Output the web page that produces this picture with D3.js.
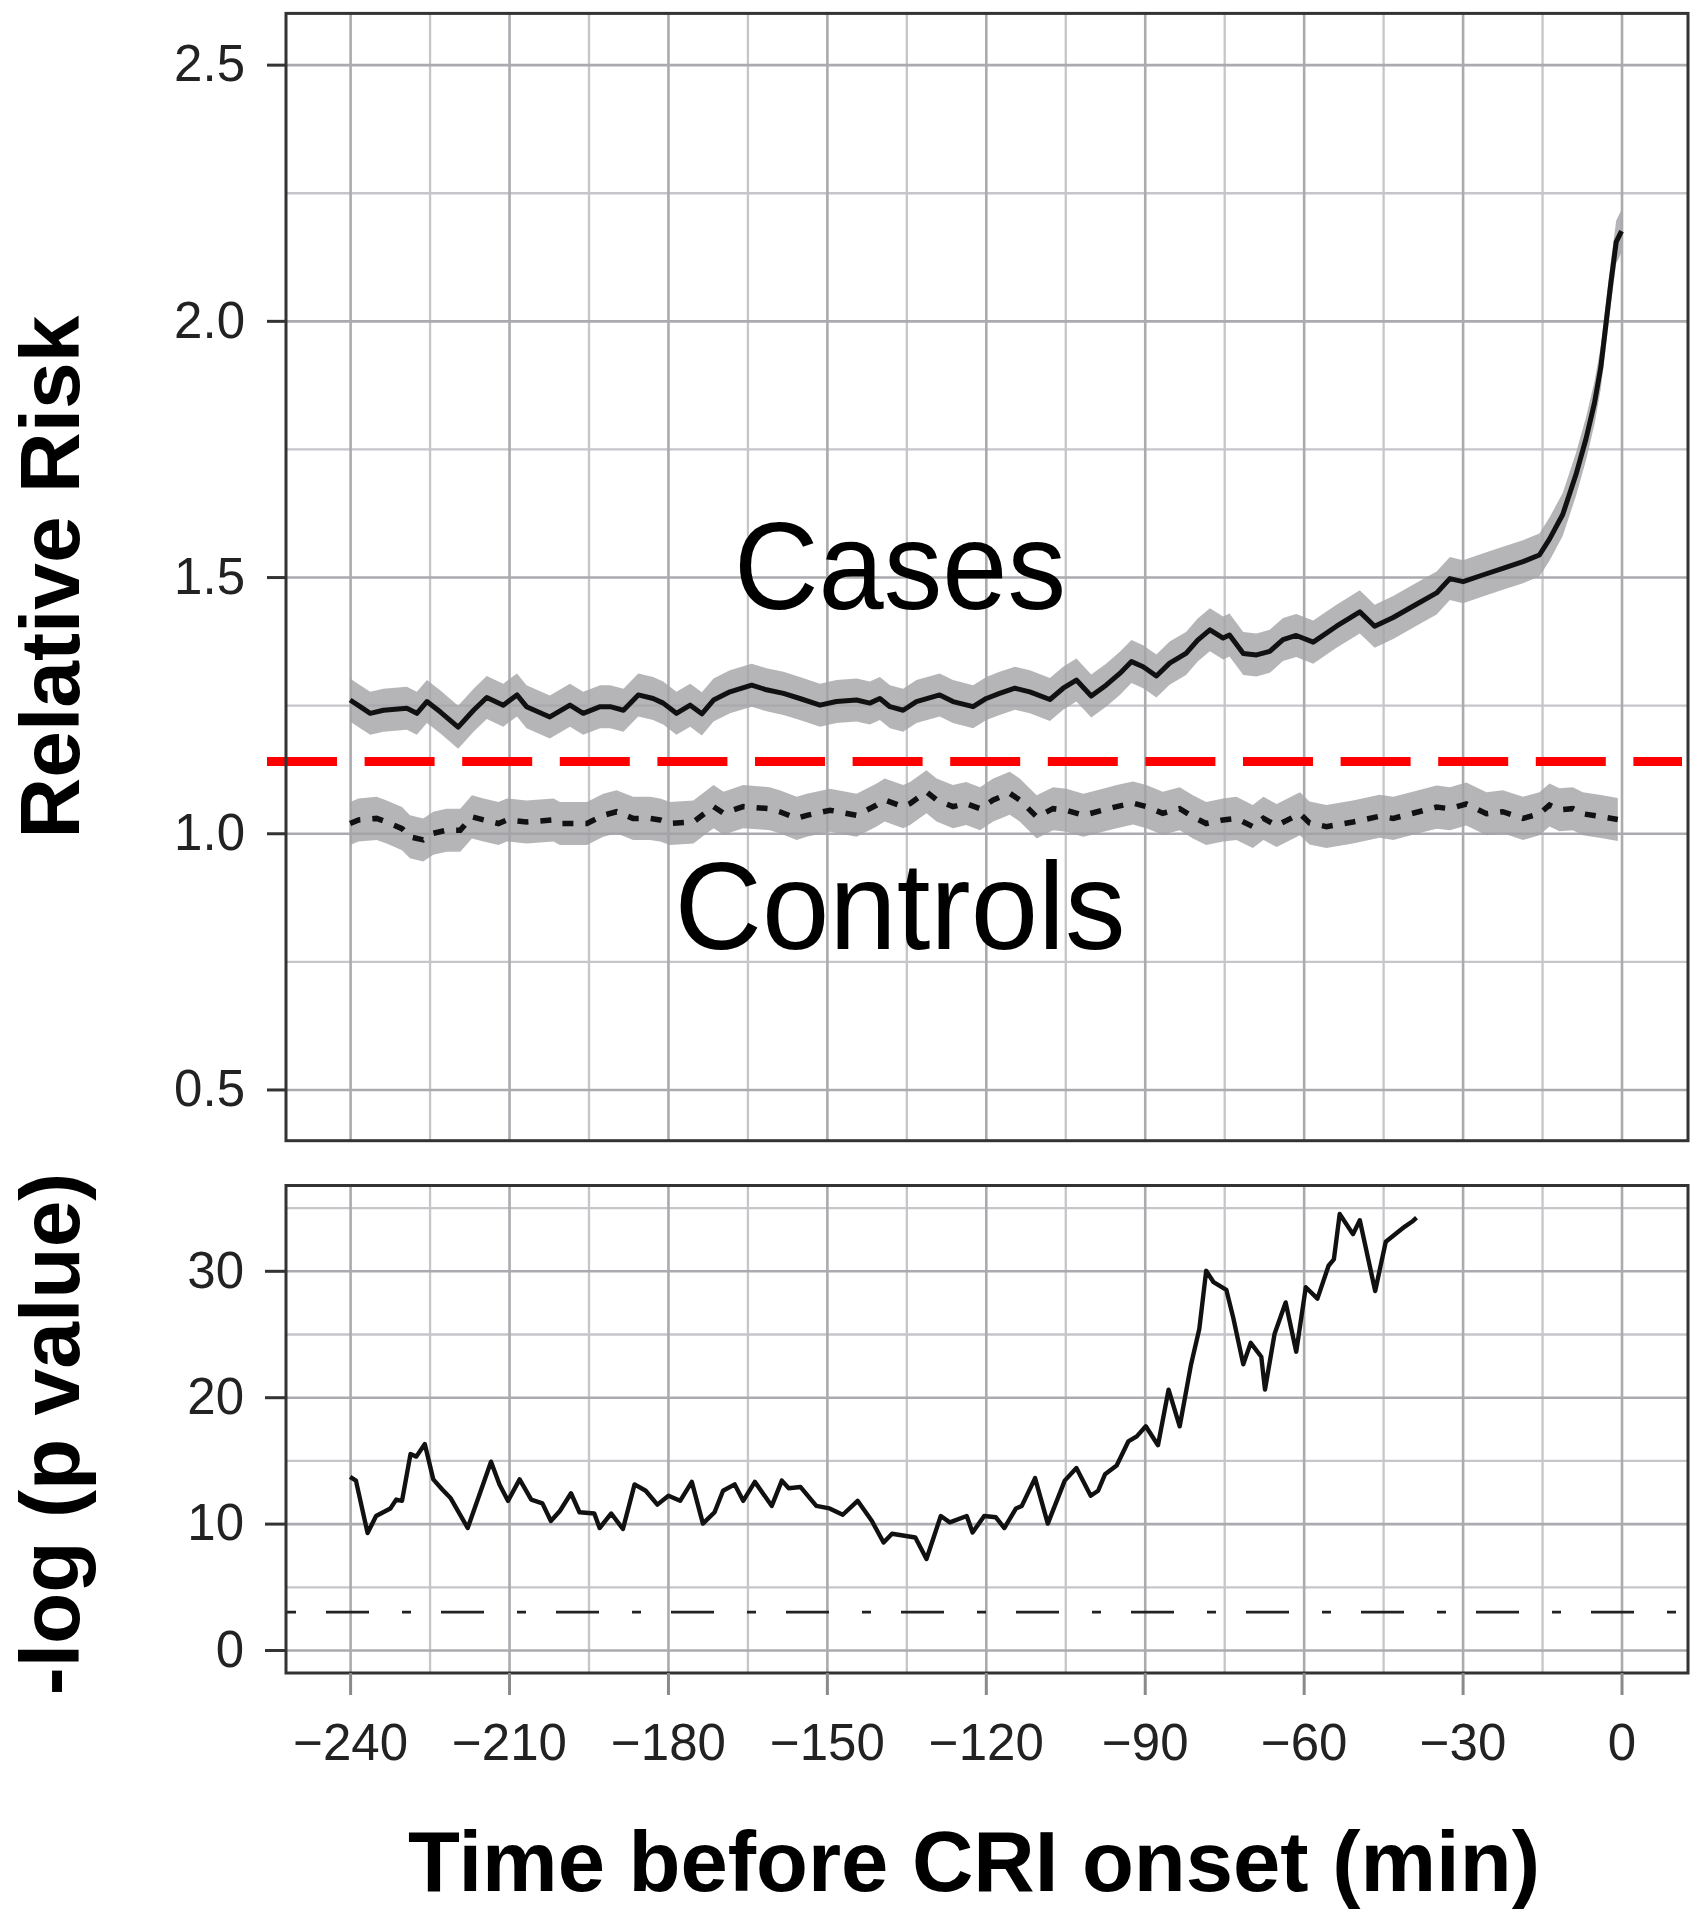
<!DOCTYPE html>
<html>
<head>
<meta charset="utf-8">
<script src="https://cdn.jsdelivr.net/npm/d3@7"></script>
<style>
    body { margin: 0; background: #fff; }
    svg { display: block; font-family: "Liberation Sans", Arial, Helvetica, sans-serif; }
</style>
</head>
<body>
<div id="chart"></div>
<script>
// Values (minutes before CRI onset)
const casesTime = [-240, -238.1, -236.2, -233.7, -229.3, -227.4, -225.5, -223, -219.6, -216.7, -214.2, -211.1, -208.5, -206.7,
    -202.3, -198.5, -196, -192.8, -190.9, -188.4, -185.6, -182.8, -180.9, -178.4, -175.8, -173.6, -171.4, -168.3, -164.2,
    -161.4, -158.2, -155.1, -151.3, -148.2, -144.4, -141.9, -140, -138.1, -135.6, -133.1, -128.7, -126.2, -122.4, -119.9,
    -117.4, -114.5, -111.7, -107.9, -105.4, -102.9, -100.1, -97.3, -94.7, -92.5, -90.3, -87.8, -85.3, -82.2, -80, -77.7,
    -75.2, -74, -71.4, -68.9, -66.4, -63.9, -61.4, -58.2, -53.8, -49.4, -46.6, -43.1, -38.7, -34.9, -32.4, -29.9, -26.2,
    -22.4, -18.6, -15.5, -13.6, -11.1, -8.6, -6.7, -5.1, -3.9, -2.9, -2, -1, 0];
const casesRR = [1.26, 1.247, 1.234, 1.24, 1.244, 1.234, 1.257, 1.237, 1.207, 1.24, 1.265, 1.25, 1.27, 1.247,
    1.227, 1.25, 1.234, 1.247, 1.247, 1.24, 1.27, 1.263, 1.254, 1.234, 1.25, 1.233, 1.26, 1.276, 1.289,
    1.28, 1.273, 1.263, 1.25, 1.257, 1.26, 1.254, 1.263, 1.247, 1.24, 1.257, 1.27, 1.257, 1.247, 1.263,
    1.273, 1.283, 1.276, 1.261, 1.283, 1.299, 1.268, 1.289, 1.312, 1.335, 1.325, 1.307, 1.332, 1.351, 1.377, 1.397,
    1.381, 1.387, 1.351, 1.348, 1.355, 1.378, 1.386, 1.373, 1.404, 1.432, 1.404, 1.421, 1.447, 1.469, 1.497, 1.491, 1.504,
    1.517, 1.53, 1.543, 1.574, 1.622, 1.70, 1.77, 1.84, 1.91, 1.997, 2.075, 2.154, 2.175];

const controlsTime = [-240, -238.4, -235, -233.1, -230.2, -228.7, -226.2, -224.3, -221.8, -219.2, -217, -214.8, -212, -210.4,
    -206.7, -201.6, -200.4, -195.3, -192.2, -189.7, -186.6, -183.4, -181.5, -179.6, -175.2, -171.4, -169.5, -165.8, -160.8,
    -158.9, -155.7, -153.8, -149.4, -144.4, -140.6, -139.1, -135.6, -134.3, -131.2, -129.3, -126.2, -123.7, -121.1, -118.6,
    -115.5, -113.6, -110.4, -107.3, -104.8, -101.6, -97.9, -95.3, -92.2, -89.7, -86.6, -83.4, -80.9, -78.4, -75.2, -72.7,
    -69.6, -67.6, -65.1, -60.7, -58.9, -55.7, -50.7, -45.7, -43.1, -39.4, -34.9, -32.4, -29.3, -25.5, -22.4, -18.6, -15.5,
    -13.6, -11.7, -9.2, -7.3, -4.2, -0.7];
const controlsRR = [1.019, 1.026, 1.029, 1.022, 1.009, 0.993, 0.987, 1.0, 1.006, 1.006, 1.032, 1.026, 1.019, 1.026,
    1.022, 1.026, 1.019, 1.019, 1.035, 1.042, 1.029, 1.029, 1.026, 1.019, 1.022, 1.052, 1.039, 1.052, 1.048,
    1.042, 1.029, 1.035, 1.045, 1.035, 1.055, 1.065, 1.052, 1.058, 1.081, 1.065, 1.052, 1.058, 1.048, 1.065,
    1.078, 1.065, 1.032, 1.048, 1.045, 1.035, 1.045, 1.052, 1.059, 1.052, 1.039, 1.048, 1.032, 1.019, 1.026, 1.029,
    1.013, 1.029, 1.015, 1.038, 1.02, 1.013, 1.022, 1.033, 1.029, 1.039, 1.051, 1.048, 1.057, 1.038, 1.042, 1.029, 1.038,
    1.055, 1.046, 1.048, 1.038, 1.033, 1.027];

const pTime = [-240, -238.9, -236.7, -235.1, -232.4, -231.3, -230.2, -228.6, -227.5, -225.9, -224.3, -222.6, -221, -217.8,
    -213.4, -211.8, -210.2, -208, -205.8, -203.7, -202.1, -200.4, -198.3, -196.7, -193.9, -192.9, -190.7, -188.5, -186.3,
    -184.2, -182, -179.9, -177.7, -175.5, -173.4, -171.2, -169.6, -167.4, -165.8, -163.6, -160.4, -158.5, -157.2, -155,
    -152, -149.5, -147, -144.2, -141.5, -139.3, -137.7, -133.3, -131.2, -128.5, -126.8, -123.6, -122.5, -120.3, -118.1,
    -116.5, -114.3, -113.2, -110.7, -108.3, -105.1, -102.9, -100.2, -98.8, -97.5, -95.3, -93.1, -91.5, -89.8, -87.5,
    -85.5, -83.4, -81.3, -79.7, -78.4, -77, -74.6, -73.3, -71.4, -70, -68, -67.3, -65.5, -63.4, -61.4, -59.6, -57.4,
    -55.3, -54.3, -53.2, -50.7, -49.4, -46.5, -44.5, -40.9, -39.5, -38.7];
const pValue = [13.7, 13.4, 9.25, 10.6, 11.2, 11.9, 11.8, 15.5, 15.3, 16.3, 13.5, 12.7, 12.0, 9.65,
    14.9, 13.1, 11.8, 13.5, 11.9, 11.6, 10.2, 11.0, 12.4, 10.9, 10.8, 9.65, 10.8, 9.57, 13.1,
    12.6, 11.5, 12.2, 11.8, 13.3, 10.0, 10.9, 12.6, 13.1, 11.8, 13.3, 11.4, 13.4, 12.8, 12.9,
    11.4, 11.2, 10.7, 11.8, 10.2, 8.5, 9.2, 8.9, 7.2, 10.6, 10.1, 10.6, 9.3, 10.6, 10.5,
    9.65, 11.2, 11.4, 13.6, 10.0, 13.4, 14.4, 12.2, 12.6, 13.9, 14.6, 16.5, 16.9, 17.7, 16.2,
    20.6, 17.7, 22.5, 25.4, 30.0, 29.1, 28.5, 26.3, 22.6, 24.3, 23.2, 20.6, 25.0, 27.5, 23.6, 28.7, 27.8,
    30.4, 30.9, 34.5, 32.9, 34.0, 28.4, 32.3, 33.5, 33.9, 34.2];

const xTicks = [-240, -210, -180, -150, -120, -90, -60, -30, 0];
const xMinor = [-225, -195, -165, -135, -105, -75, -45, -15];
const rrTicks = [0.5, 1.0, 1.5, 2.0, 2.5];
const rrMinor = [0.75, 1.25, 1.75, 2.25];
const pTicks = [0, 10, 20, 30];
const pMinor = [5, 15, 25, 35];

const rrThreshold = 1.14;
const pThreshold = 3;
const bandHalf = 0.042;

// Dimensions
const width = 1704;
const height = 1920;
const panelLeft = 286;
const panelRight = 1688;
const top1 = 13.4, bottom1 = 1140.7;
const top2 = 1185.5, bottom2 = 1673;

const x = d3.scaleLinear().domain([-252.1, 12.55]).range([panelLeft, panelRight]);
const yRR = d3.scaleLinear().domain([0.4, 2.6]).range([bottom1, top1]);
const yP = d3.scaleLinear().domain([-1.82, 36.75]).range([bottom2, top2]);

const cases = casesTime.map((t, i) => ({t: t, v: casesRR[i]}));
const controls = controlsTime.map((t, i) => ({t: t, v: controlsRR[i]}));
const pData = pTime.map((t, i) => ({t: t, v: pValue[i]}));

const svg = d3.select("#chart")
    .append("svg")
    .attr("width", width)
    .attr("height", height);

const minusFmt = d => d < 0 ? "\u2212" + Math.abs(d) : String(d);

function grid(yScale, yTop, yBottom, yMajor, yMinorVals) {
    const g = svg.append("g");
    // minor lines first, lighter
    g.append("g")
        .attr("transform", `translate(0,${yBottom})`)
        .call(d3.axisBottom(x).tickValues(xMinor).tickSize(-(yBottom - yTop)).tickFormat(""))
        .call(s => s.select(".domain").remove())
        .call(s => s.selectAll("line").attr("stroke", "#c6c6ca").attr("stroke-width", 2.3));
    g.append("g")
        .attr("transform", `translate(${panelLeft},0)`)
        .call(d3.axisLeft(yScale).tickValues(yMinorVals).tickSize(-(panelRight - panelLeft)).tickFormat(""))
        .call(s => s.select(".domain").remove())
        .call(s => s.selectAll("line").attr("stroke", "#c6c6ca").attr("stroke-width", 2.3));
    g.append("g")
        .attr("transform", `translate(0,${yBottom})`)
        .call(d3.axisBottom(x).tickValues(xTicks).tickSize(-(yBottom - yTop)).tickFormat(""))
        .call(s => s.select(".domain").remove())
        .call(s => s.selectAll("line").attr("stroke", "#ababaf").attr("stroke-width", 2.6));
    g.append("g")
        .attr("transform", `translate(${panelLeft},0)`)
        .call(d3.axisLeft(yScale).tickValues(yMajor).tickSize(-(panelRight - panelLeft)).tickFormat(""))
        .call(s => s.select(".domain").remove())
        .call(s => s.selectAll("line").attr("stroke", "#ababaf").attr("stroke-width", 2.6));
}

// 1. Grids
grid(yRR, top1, bottom1, rrTicks, rrMinor);
grid(yP, top2, bottom2, pTicks, pMinor);

// 2. Confidence bands
const band = d3.area()
    .x(d => x(d.t))
    .y0(d => yRR(d.v - bandHalf))
    .y1(d => yRR(d.v + bandHalf));

[cases, controls].forEach(s => {
    svg.append("path")
        .datum(s)
        .attr("d", band)
        .attr("fill", "#a2a2a6")
        .attr("fill-opacity", 0.8);
});

// 3. Lines
const rrLine = d3.line().x(d => x(d.t)).y(d => yRR(d.v));
svg.append("path")
    .datum(cases)
    .attr("d", rrLine)
    .attr("fill", "none")
    .attr("stroke", "#111")
    .attr("stroke-width", 5)
    .attr("stroke-linejoin", "round");

svg.append("path")
    .datum(controls)
    .attr("d", rrLine)
    .attr("fill", "none")
    .attr("stroke", "#111")
    .attr("stroke-width", 5.5)
    .attr("stroke-dasharray", "11,12");

// red reference line (spills a bit past the left border, like the original)
svg.append("line")
    .attr("x1", panelLeft - 19)
    .attr("x2", panelRight - 6)
    .attr("y1", yRR(rrThreshold))
    .attr("y2", yRR(rrThreshold))
    .attr("stroke", "#ff0000")
    .attr("stroke-width", 9)
    .attr("stroke-dasharray", "70,27.6");

const pLine = d3.line().x(d => x(d.t)).y(d => yP(d.v));
svg.append("path")
    .datum(pData)
    .attr("d", pLine)
    .attr("fill", "none")
    .attr("stroke", "#111")
    .attr("stroke-width", 4.4)
    .attr("stroke-linejoin", "round");

svg.append("line")
    .attr("x1", panelLeft)
    .attr("x2", panelRight - 4)
    .attr("y1", yP(pThreshold))
    .attr("y2", yP(pThreshold))
    .attr("stroke", "#222")
    .attr("stroke-width", 2.6)
    .attr("stroke-dasharray", "43,33,9,30")
    .attr("stroke-dashoffset", 75);

// 4. Labels inside the top panel
svg.append("text")
    .attr("x", x(-136.2))
    .attr("y", yRR(1.438))
    .attr("text-anchor", "middle")
    .attr("font-size", 124)
    .attr("textLength", 332)
    .attr("lengthAdjust", "spacingAndGlyphs")
    .attr("fill", "#000")
    .text("Cases");

svg.append("text")
    .attr("x", x(-136.2))
    .attr("y", yRR(0.7745))
    .attr("text-anchor", "middle")
    .attr("font-size", 124)
    .attr("textLength", 451)
    .attr("lengthAdjust", "spacingAndGlyphs")
    .attr("fill", "#000")
    .text("Controls");

// 5. Panel frames
[[top1, bottom1], [top2, bottom2]].forEach(p => {
    svg.append("rect")
        .attr("x", panelLeft)
        .attr("y", p[0])
        .attr("width", panelRight - panelLeft)
        .attr("height", p[1] - p[0])
        .attr("fill", "none")
        .attr("stroke", "#333")
        .attr("stroke-width", 3);
});

// 6. Axes
svg.append("g")
    .attr("transform", `translate(${panelLeft},0)`)
    .call(d3.axisLeft(yRR).tickValues(rrTicks).tickSize(19).tickPadding(22).tickFormat(d3.format(".1f")))
    .call(g => g.select(".domain").remove())
    .call(g => g.selectAll("line").attr("stroke", "#333").attr("stroke-width", 3))
    .call(g => g.selectAll("text").attr("font-size", 51).attr("fill", "#222").attr("font-family", null));

svg.append("g")
    .attr("transform", `translate(${panelLeft},0)`)
    .call(d3.axisLeft(yP).tickValues(pTicks).tickSize(21).tickPadding(21))
    .call(g => g.select(".domain").remove())
    .call(g => g.selectAll("line").attr("stroke", "#333").attr("stroke-width", 3))
    .call(g => g.selectAll("text").attr("font-size", 51).attr("fill", "#222").attr("font-family", null));

svg.append("g")
    .attr("transform", `translate(0,${bottom2})`)
    .call(d3.axisBottom(x).tickValues(xTicks).tickSize(22).tickPadding(29).tickFormat(minusFmt))
    .call(g => g.select(".domain").remove())
    .call(g => g.selectAll("line").attr("stroke", "#8a8a8a").attr("stroke-width", 3))
    .call(g => g.selectAll("text").attr("font-size", 51).attr("fill", "#222").attr("font-family", null));

// 7. Axis titles
svg.append("text")
    .attr("transform", "translate(79,577) rotate(-90)")
    .attr("text-anchor", "middle")
    .attr("font-size", 84)
    .attr("font-weight", "bold")
    .text("Relative Risk");

svg.append("text")
    .attr("transform", "translate(79,1434) rotate(-90)")
    .attr("text-anchor", "middle")
    .attr("font-size", 84)
    .attr("font-weight", "bold")
    .text("-log (p value)");

svg.append("text")
    .attr("x", 974)
    .attr("y", 1891)
    .attr("text-anchor", "middle")
    .attr("font-size", 85)
    .attr("font-weight", "bold")
    .text("Time before CRI onset (min)");
</script>
</body>
</html>
